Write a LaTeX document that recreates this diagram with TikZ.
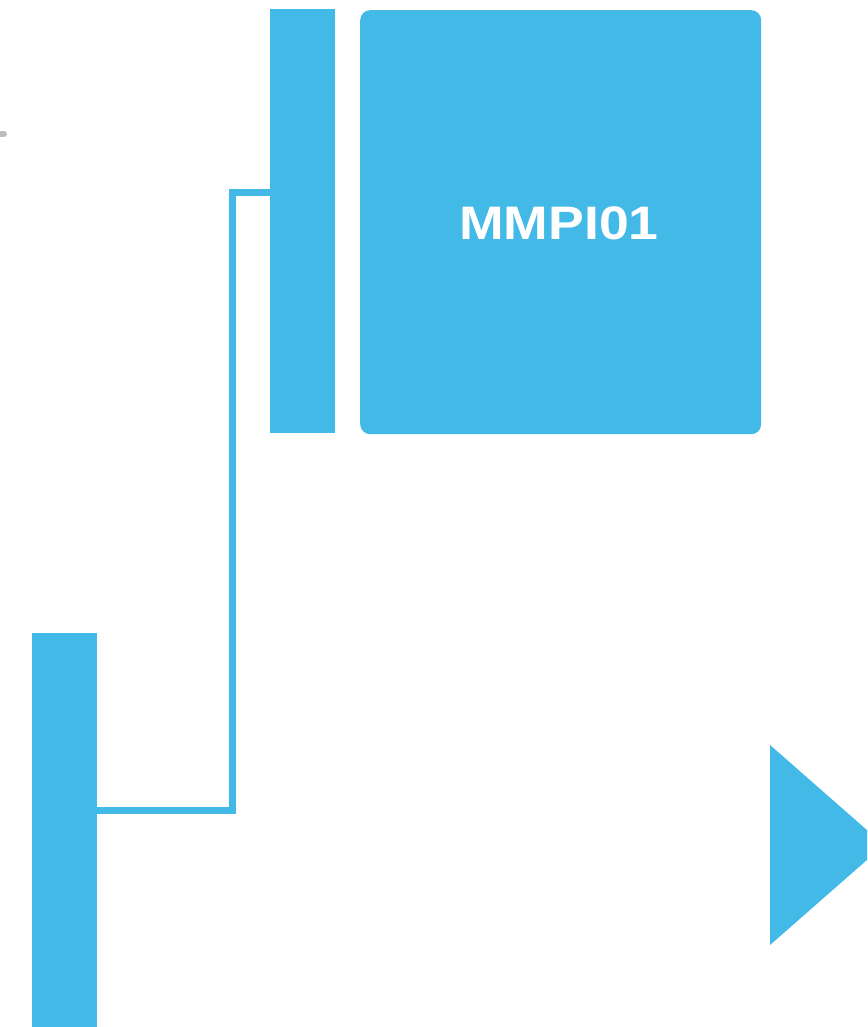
\documentclass[tikz,border=0pt]{standalone}
\usepackage{fontspec}
\setmainfont{Liberation Sans}
\usetikzlibrary{positioning}
\definecolor{flowblue}{HTML}{42B9E6}
\definecolor{stubgray}{HTML}{BDBDBD}

\begin{document}
\begin{tikzpicture}[
  x=1pt, y=-1pt,
  bar/.style={rectangle, fill=flowblue, draw=none, anchor=north west,
              minimum width=65pt, inner sep=0pt},
  module/.style={rectangle, rounded corners=10pt, fill=flowblue, draw=none,
                 anchor=north west, minimum width=401pt, minimum height=424pt,
                 inner sep=0pt},
  modlabel/.style={text=white, inner sep=0pt,
                   font=\fontsize{47}{50}\selectfont\bfseries},
  link/.style={flowblue, line width=7pt},
]
  \useasboundingbox (0,0) rectangle (867,1027);
  \clip (0,0) rectangle (867,1027);

  \node[bar, minimum height=424pt] (topbar) at (270,9) {};
  \node[module] (mmpi) at (360,10) {};
  \node[modlabel] (mmpilbl) at (559,223) {\scalebox{1.14}[1]{MMPI01}};
  \node[bar, minimum height=420pt] (botbar) at (32,633) {};

  % connector from the top bar down to the bottom bar
  \draw[link] (topbar.west |- 0,192) -| (232,810) -- (botbar.east |- 0,810);

  % output arrow head
  \fill[flowblue] (770,745) -- (884,845) -- (770,945) -- cycle;

  % stub at the left edge
  \draw[stubgray, line width=6pt, line cap=round] (-6,134) -- (4,134);
\end{tikzpicture}
\end{document}
